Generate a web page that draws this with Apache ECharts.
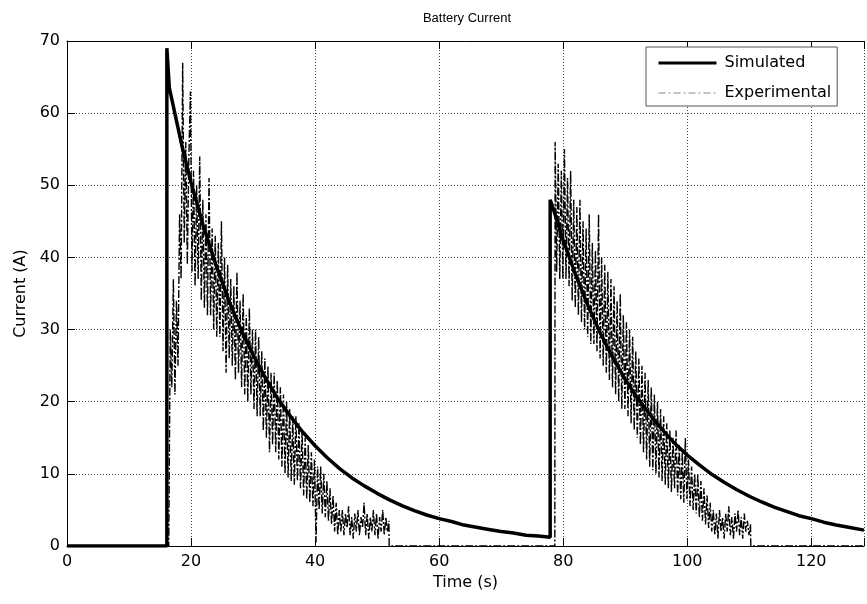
<!DOCTYPE html>
<html>
<head>
<meta charset="utf-8">
<script src="https://cdn.jsdelivr.net/npm/echarts@6/dist/echarts.min.js"></script>
<style>
  html, body { margin: 0; padding: 0; background: #fff; }
  #chart { width: 867px; height: 604px; }
</style>
</head>
<body>
<div id="chart"></div>
<script>
// simulated current, [time s, current A]
const simulated = [
  [0, 0], [16.1, 0], [16.1, 69], [16.5, 63.5], [18.6, 55.2],
  [20, 50.4], [22, 44.3], [24, 39.0], [26, 34.2], [28, 30.1], [30, 26.5],
  [32, 23.3], [34, 20.4], [36, 18.0], [38, 15.8], [40, 13.9], [42, 12.2],
  [44, 10.7], [46, 9.4], [48, 8.3], [50, 7.3], [52, 6.4], [54, 5.6],
  [56, 4.9], [58, 4.3], [60, 3.8], [62, 3.4], [64, 2.9], [66, 2.6],
  [68, 2.3], [70, 2.0], [72, 1.8], [74, 1.5], [76, 1.4], [77.9, 1.2],
  [77.9, 48.0], [78.3, 47.0],
  [80, 42.4], [82, 37.6], [84, 33.3], [86, 29.5], [88, 26.1], [90, 23.1],
  [92, 20.5], [94, 18.2], [96, 16.1], [98, 14.2], [100, 12.6], [102, 11.2],
  [104, 9.9], [106, 8.8], [108, 7.8], [110, 6.9], [112, 6.1], [114, 5.4],
  [116, 4.8], [118, 4.2], [120, 3.8], [122, 3.3], [124, 2.9], [126, 2.6],
  [128.5, 2.2]
]

// experimental samples, 0.25 s apart
const expStep = 0.25
const expStart1 = 16.4
const expBurst1 = [
  0, 30, 22, 37, 21, 34, 25, 46, 37, 67, 42, 56, 39, 54, 63, 38, 52, 36, 50, 37,
  54, 34, 48, 33, 46, 32, 51, 32, 44, 30, 43, 29, 42, 29, 45, 27, 40, 24, 39, 26,
  37, 25, 36, 23, 38, 24, 34, 22, 35, 21, 32, 20, 33, 21, 30, 19, 30, 18, 29, 18,
  27, 16, 26, 15, 25, 13, 24, 14, 24, 13, 23, 12, 22, 11, 21, 10, 20, 9.5, 19, 9,
  18, 8.5, 18, 9, 17, 8, 16, 7, 15, 6.5, 14, 6, 13, 5.5, 12, 0.5, 11, 5, 11, 4.5,
  10, 4, 9, 3.5, 8, 3, 7, 2, 6, 1.5, 5,
  2, 5, 1.5, 4.5, 2.5, 5.5, 1.5, 4, 1, 4.5, 2, 5, 1.5, 4, 2.5, 6,
  1.5, 4.5, 1, 4, 2, 5, 1.5, 4.5, 1, 4, 2, 5, 1.5, 4, 2, 3.5
]
const expStart2 = 78.7
const expBurst2 = [
  56, 38, 53, 37, 52, 37, 55, 37, 51, 36, 52, 34, 48, 33, 47, 32, 48, 31, 45, 30,
  44, 29, 46, 28, 42, 28, 41, 27, 46, 26, 40, 25, 39, 24, 38, 23, 37, 22, 36, 21,
  34, 20, 35, 19, 32, 19, 31, 18, 30, 17, 29, 16, 27, 15, 26, 14, 25, 13, 24, 12,
  23, 11, 22, 10.5, 21, 10, 20, 9.5, 19, 9, 18, 8.5, 17, 8, 16, 7.5, 15, 8, 16, 7,
  14, 6.5, 13, 6, 15, 6.5, 12, 5.5, 11, 5, 10, 4.5, 10, 4, 9, 3.5, 8, 3, 7, 2.5,
  6, 2,
  5, 1.5, 4.5, 1, 5, 2, 4, 1, 4.5, 2, 5.5, 1.5, 4, 1, 4.5, 2, 5, 1.5, 4, 1,
  4.5, 2, 3.5, 1.5, 3
]

const xTicks = [0, 20, 40, 60, 80, 100, 120]
const yTicks = [0, 10, 20, 30, 40, 50, 60, 70]

function burst(start, values) {
  return values.map((v, i) => [+(start + i * expStep).toFixed(2), v])
}
const b1 = burst(expStart1, expBurst1)
const b2 = burst(expStart2, expBurst2)
const experimental = [[0, 0]]
  .concat(b1, [[b1[b1.length - 1][0] + 0.05, 0], [expStart2 - 0.05, 0]])
  .concat(b2, [[b2[b2.length - 1][0] + 0.05, 0], [128.5, 0]])

const font = 'DejaVu Sans, Liberation Sans, Arial, sans-serif'
const gridLine = { show: true, lineStyle: { color: '#444', width: 1, type: [1, 2] } }
const noMarker = { color: 'rgba(0,0,0,0)', borderWidth: 0 }

const chart = echarts.init(document.getElementById('chart'))
chart.setOption({
  animation: false,
  backgroundColor: '#fff',
  title: {
    text: 'Battery Current',
    left: 462,
    top: 7,
    textAlign: 'center',
    textStyle: { fontFamily: 'Liberation Sans, Arial, sans-serif', fontSize: 13, fontWeight: 'normal', color: '#000' }
  },
  legend: {
    orient: 'vertical',
    left: 646,
    top: 47,
    padding: [8, 6, 5, 11],
    itemGap: 14,
    itemWidth: 58,
    itemHeight: 16,
    backgroundColor: '#fff',
    borderColor: '#555',
    borderWidth: 1,
    textStyle: { fontFamily: font, fontSize: 16, color: '#000', padding: [0, 0, 0, 3] },
    data: [
      { name: 'Simulated', itemStyle: noMarker, lineStyle: { color: '#000', width: 3 } },
      { name: 'Experimental', itemStyle: noMarker, lineStyle: { color: '#888', width: 1, type: [7, 3, 2, 3] } }
    ]
  },
  grid: { left: 67, top: 41, right: -1, bottom: 58 },
  xAxis: [
    {
      type: 'value',
      min: 0,
      max: 128.5,
      interval: 20,
      name: 'Time (s)',
      nameLocation: 'middle',
      nameGap: 25,
      nameTextStyle: { fontFamily: font, fontSize: 16, color: '#000' },
      axisLine: { onZero: false, lineStyle: { color: '#000', width: 1 } },
      axisTick: { inside: true, length: 8, lineStyle: { color: '#000' } },
      axisLabel: {
        fontFamily: font, fontSize: 16, color: '#000', margin: 8,
        formatter: v => (xTicks.includes(v) ? String(v) : '')
      },
      splitLine: gridLine
    },
    {
      type: 'value',
      position: 'top',
      min: 0,
      max: 128.5,
      interval: 20,
      axisLine: { onZero: false, lineStyle: { color: '#000', width: 1 } },
      axisTick: { inside: true, length: 8, lineStyle: { color: '#000' } },
      axisLabel: { show: false },
      splitLine: { show: false }
    }
  ],
  yAxis: [
    {
      type: 'value',
      min: 0,
      max: 70,
      interval: 10,
      name: 'Current (A)',
      nameLocation: 'middle',
      nameGap: 38,
      nameTextStyle: { fontFamily: font, fontSize: 16, color: '#000' },
      axisLine: { show: true, onZero: false, lineStyle: { color: '#000', width: 1 } },
      axisTick: { show: true, inside: true, length: 8, lineStyle: { color: '#000' } },
      axisLabel: {
        fontFamily: font, fontSize: 16, color: '#000', margin: 7,
        formatter: v => (yTicks.includes(v) ? String(v) : '')
      },
      splitLine: gridLine
    }
  ],
  series: [
    {
      name: 'Simulated',
      type: 'line',
      data: simulated,
      symbol: 'none',
      z: 2,
      lineStyle: { color: '#000', width: 3.5 },
      itemStyle: { color: '#000' }
    },
    {
      name: 'Experimental',
      type: 'line',
      data: experimental,
      symbol: 'none',
      z: 3,
      lineStyle: { color: '#000', width: 1.4, type: [8, 2, 2, 2] },
      itemStyle: { color: '#888' }
    }
  ]
})
</script>
</body>
</html>
